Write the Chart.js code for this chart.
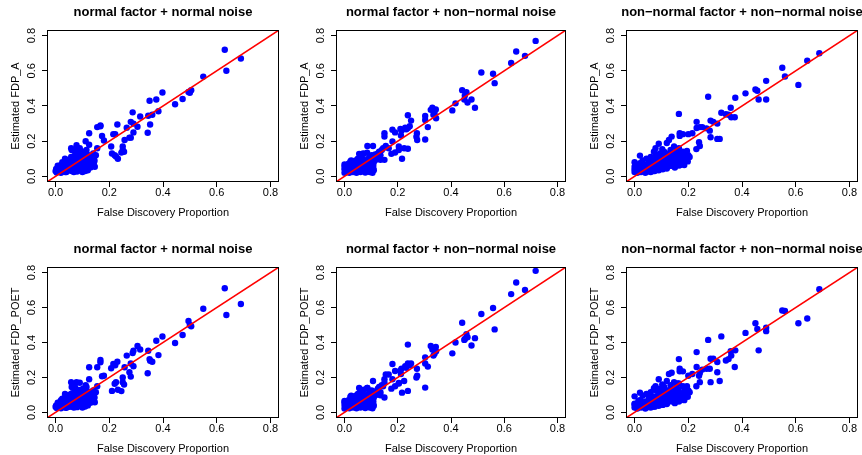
<!DOCTYPE html>
<html>
<head>
<meta charset="utf-8">
<script src="https://cdn.jsdelivr.net/npm/chart.js@4.4.1/dist/chart.umd.min.js"></script>
<style>
  html, body { margin: 0; padding: 0; background: #fff; }
  #wrap { position: relative; width: 862px; height: 455px; overflow: hidden; }
  #wrap canvas { position: absolute; }
</style>
</head>
<body>
<div id="wrap"></div>
<script>
// Simulated FDP vs estimated FDP, three factor/noise settings (columns)
const panelTitles = ['normal factor + normal noise', 'normal factor + non\u2212normal noise', 'non\u2212normal factor + non\u2212normal noise'];
const yLabels = ['Estimated FDP_A', 'Estimated FDP_POET'];
const xLabel = 'False Discovery Proportion';
const tickValues = [0, 0.2, 0.4, 0.6, 0.8];

// column 1: normal factor + normal noise
const fdpNN = [
  0.630,0.690,0.636,0.550,0.505,0.495,0.500,0.473,0.445,0.398,0.375,0.383,0.350,0.360,0.345,0.352,0.343,0.315,0.305,0.287,
  0.280,0.290,0.265,0.290,0.280,0.275,0.230,0.215,0.222,0.207,0.225,0.220,0.232,0.210,0.250,0.255,0.245,0.257,0.250,0.167,
  0.155,0.167,0.173,0.180,0.125,0.155,0.112,0.058,0.078,0.125,
  0.000,0.002,0.004,0.006,0.010,0.012,0.015,0.018,0.020,0.022,0.025,0.028,0.030,0.033,0.035,0.038,0.040,0.042,0.045,0.047,
  0.050,0.052,0.055,0.057,0.060,0.062,0.064,0.066,0.068,0.070,0.072,0.074,0.076,0.078,0.080,0.082,0.084,0.086,0.088,0.090,
  0.092,0.094,0.096,0.098,0.100,0.102,0.104,0.106,0.108,0.110,0.112,0.114,0.116,0.118,0.120,0.122,0.125,0.128,0.130,0.133,
  0.136,0.140,0.143,0.146,0.150,0.020,0.035,0.060,0.075,0.090,
  0.008,0.016,0.026,0.036,0.044,0.054,0.058,0.068,0.072,0.082,0.088,0.096,0.104,0.110,0.118,0.124,0.132,0.138,0.145,0.115
];
const estANN = [
  0.720,0.670,0.600,0.567,0.490,0.480,0.475,0.440,0.410,0.477,0.437,0.370,0.430,0.350,0.345,0.295,0.248,0.340,0.282,0.364,
  0.310,0.300,0.277,0.250,0.220,0.220,0.295,0.240,0.240,0.170,0.113,0.120,0.100,0.130,0.150,0.140,0.135,0.207,0.170,0.285,
  0.280,0.290,0.230,0.204,0.245,0.160,0.200,0.160,0.177,0.180,
  0.030,0.042,0.022,0.035,0.028,0.050,0.038,0.025,0.065,0.045,0.080,0.030,0.055,0.070,0.040,0.090,0.025,0.060,0.075,0.048,
  0.095,0.035,0.062,0.082,0.030,0.105,0.050,0.072,0.025,0.090,0.120,0.040,0.065,0.100,0.028,0.055,0.110,0.080,0.035,0.130,
  0.060,0.095,0.045,0.075,0.025,0.140,0.090,0.055,0.115,0.030,0.070,0.100,0.045,0.125,0.035,0.085,0.060,0.110,0.050,0.095,
  0.070,0.130,0.080,0.055,0.120,0.020,0.100,0.150,0.140,0.160,
  0.060,0.028,0.045,0.025,0.052,0.045,0.110,0.040,0.150,0.070,0.050,0.105,0.060,0.085,0.055,0.110,0.095,0.060,0.090,0.150
];
const estPoetNN = [
  0.710,0.620,0.557,0.593,0.493,0.523,0.500,0.443,0.397,0.434,0.410,0.328,0.305,0.290,0.353,0.296,0.224,0.360,0.380,0.340,
  0.280,0.353,0.325,0.264,0.205,0.230,0.290,0.277,0.270,0.253,0.173,0.164,0.130,0.123,0.173,0.160,0.122,0.258,0.200,0.300,
  0.258,0.287,0.207,0.210,0.258,0.150,0.155,0.173,0.173,0.190,
  0.032,0.040,0.025,0.038,0.026,0.055,0.035,0.028,0.070,0.042,0.078,0.033,0.058,0.066,0.044,0.085,0.027,0.064,0.072,0.050,
  0.100,0.032,0.068,0.080,0.034,0.110,0.047,0.075,0.028,0.088,0.125,0.043,0.060,0.098,0.030,0.058,0.105,0.085,0.038,0.128,
  0.064,0.090,0.048,0.078,0.028,0.135,0.095,0.052,0.110,0.034,0.074,0.098,0.050,0.120,0.040,0.088,0.064,0.105,0.055,0.100,
  0.066,0.125,0.084,0.058,0.115,0.024,0.105,0.145,0.135,0.170,
  0.055,0.030,0.048,0.028,0.055,0.050,0.105,0.044,0.145,0.074,0.054,0.100,0.064,0.090,0.058,0.105,0.100,0.064,0.085,0.145
];

// column 2: normal factor + non-normal noise
const fdpNX = [
  0.718,0.645,0.678,0.626,0.514,0.558,0.564,0.442,0.458,0.452,0.477,0.462,0.450,0.490,0.417,0.405,0.343,0.324,0.330,0.338,
  0.344,0.334,0.303,0.303,0.313,0.303,0.238,0.250,0.238,0.245,0.228,0.232,0.272,0.273,0.270,0.238,0.216,0.210,0.214,0.212,
  0.204,0.180,0.190,0.180,0.155,0.166,0.150,0.150,0.176,0.190,0.204,0.224,0.150,0.135,0.086,0.107,0.055,0.073,
  0.000,0.000,0.000,0.000,0.003,0.005,0.008,0.010,0.012,0.015,0.018,0.020,0.022,0.025,0.028,0.030,0.032,0.035,0.038,0.040,
  0.042,0.045,0.048,0.050,0.052,0.055,0.058,0.060,0.062,0.065,0.068,0.070,0.072,0.075,0.078,0.080,0.082,0.085,0.088,0.090,
  0.092,0.095,0.098,0.100,0.102,0.105,0.108,0.110,0.110,0.110,0.115,0.120,0.125,0.130,0.135,0.140,0.145,0.118,0.060,0.040,
  0.025,0.085,0.095,0.070,0.050,
  0.005,0.012,0.020,0.028,0.035,0.042,0.050,0.058,0.065,0.072,0.080,0.088,0.095,0.102,0.108,0.045,0.030,0.015,0.078,0.100
];
const estANX = [
  0.770,0.710,0.685,0.645,0.590,0.583,0.530,0.490,0.478,0.460,0.437,0.420,0.437,0.390,0.415,0.375,0.380,0.378,0.390,0.357,
  0.330,0.350,0.343,0.320,0.280,0.210,0.347,0.317,0.275,0.285,0.276,0.268,0.245,0.207,0.225,0.157,0.100,0.270,0.260,0.232,
  0.170,0.265,0.250,0.198,0.173,0.160,0.245,0.227,0.128,0.136,0.150,0.160,0.094,0.094,0.173,0.173,0.128,0.128,
  0.020,0.040,0.055,0.068,0.030,0.048,0.025,0.060,0.038,0.072,0.020,0.050,0.085,0.030,0.062,0.045,0.025,0.078,0.055,0.035,
  0.090,0.020,0.065,0.048,0.030,0.080,0.058,0.025,0.110,0.042,0.070,0.030,0.095,0.055,0.022,0.082,0.040,0.065,0.030,0.100,
  0.050,0.025,0.075,0.040,0.120,0.020,0.060,0.035,0.080,0.100,0.125,0.110,0.130,0.140,0.120,0.150,0.160,0.095,0.125,0.080,
  0.090,0.135,0.110,0.130,0.100,
  0.060,0.045,0.035,0.050,0.060,0.055,0.040,0.070,0.055,0.045,0.060,0.050,0.062,0.055,0.045,0.070,0.040,0.030,0.035,0.085
];
const estPoetNX = [
  0.810,0.743,0.700,0.677,0.563,0.597,0.475,0.513,0.448,0.420,0.383,0.430,0.415,0.425,0.400,0.338,0.375,0.380,0.360,0.335,
  0.350,0.325,0.315,0.280,0.262,0.142,0.388,0.280,0.280,0.270,0.265,0.255,0.250,0.210,0.200,0.123,0.113,0.240,0.250,0.220,
  0.168,0.277,0.237,0.190,0.217,0.217,0.190,0.170,0.136,0.150,0.165,0.180,0.085,0.098,0.140,0.180,0.140,0.130,
  0.022,0.042,0.058,0.065,0.032,0.050,0.028,0.062,0.040,0.070,0.024,0.053,0.090,0.034,0.060,0.048,0.028,0.075,0.058,0.038,
  0.095,0.024,0.068,0.050,0.033,0.085,0.055,0.028,0.105,0.045,0.074,0.033,0.098,0.058,0.025,0.085,0.043,0.068,0.033,0.105,
  0.053,0.028,0.078,0.043,0.125,0.024,0.064,0.038,0.085,0.105,0.120,0.115,0.135,0.145,0.115,0.155,0.150,0.100,0.130,0.085,
  0.095,0.140,0.115,0.125,0.105,
  0.063,0.048,0.038,0.053,0.064,0.058,0.044,0.073,0.058,0.048,0.064,0.054,0.066,0.058,0.048,0.074,0.043,0.033,0.038,0.090
];

// column 3: non-normal factor + non-normal noise
const fdpXX = [
  0.688,0.643,0.550,0.560,0.610,0.490,0.450,0.457,0.413,0.462,0.490,0.274,0.375,0.358,0.323,0.340,0.350,0.373,0.360,0.283,
  0.293,0.308,0.268,0.280,0.252,0.283,0.308,0.317,0.231,0.231,0.243,0.240,0.230,0.243,0.165,0.168,0.168,0.180,0.215,0.200,
  0.165,0.194,0.180,0.138,0.128,0.120,0.090,0.103,0.078,0.072,0.020,0.000,0.160,0.147,
  0.000,0.000,0.000,0.004,0.008,0.010,0.014,0.018,0.020,0.024,0.028,0.030,0.034,0.038,0.040,0.044,0.048,0.050,0.054,0.058,
  0.060,0.064,0.068,0.070,0.074,0.078,0.080,0.084,0.088,0.090,0.094,0.098,0.100,0.104,0.108,0.110,0.114,0.118,0.120,0.124,
  0.128,0.130,0.134,0.138,0.140,0.144,0.148,0.150,0.154,0.158,0.160,0.165,0.170,0.175,0.180,0.185,0.190,0.195,0.200,0.205,
  0.150,0.120,0.090,0.060,0.040,0.170,0.135,0.105,0.075,
  0.012,0.022,0.032,0.046,0.056,0.066,0.076,0.086,0.096,0.106,0.112,0.122,0.132,0.142,0.152,0.162,0.172,0.182,0.192,0.198,
  0.156,0.128,0.098,0.185
];
const estAXX = [
  0.700,0.657,0.617,0.568,0.520,0.543,0.494,0.487,0.472,0.437,0.437,0.453,0.447,0.390,0.362,0.353,0.350,0.336,0.336,0.317,
  0.310,0.300,0.273,0.260,0.280,0.222,0.213,0.213,0.310,0.275,0.280,0.194,0.155,0.173,0.355,0.245,0.230,0.240,0.245,0.240,
  0.062,0.123,0.140,0.226,0.207,0.190,0.185,0.155,0.160,0.140,0.118,0.080,0.132,0.170,
  0.025,0.040,0.055,0.030,0.045,0.020,0.060,0.035,0.075,0.025,0.050,0.090,0.030,0.065,0.040,0.100,0.028,0.055,0.080,0.035,
  0.110,0.045,0.070,0.030,0.095,0.050,0.120,0.040,0.085,0.060,0.130,0.045,0.075,0.100,0.055,0.140,0.070,0.090,0.050,0.120,
  0.080,0.065,0.150,0.095,0.060,0.110,0.075,0.130,0.085,0.100,0.070,0.160,0.090,0.115,0.080,0.130,0.100,0.145,0.120,0.110,
  0.050,0.045,0.035,0.025,0.020,0.065,0.060,0.040,0.030,
  0.040,0.055,0.045,0.060,0.050,0.085,0.065,0.100,0.090,0.120,0.085,0.100,0.110,0.085,0.115,0.125,0.075,0.100,0.135,0.085,
  0.145,0.130,0.110,0.065
];
const estPoetXX = [
  0.705,0.537,0.583,0.580,0.510,0.485,0.510,0.477,0.455,0.355,0.465,0.415,0.355,0.350,0.435,0.297,0.305,0.260,0.325,0.307,
  0.307,0.288,0.250,0.250,0.245,0.173,0.230,0.180,0.345,0.260,0.225,0.210,0.150,0.173,0.305,0.250,0.235,0.235,0.220,0.210,
  0.062,0.137,0.150,0.227,0.220,0.180,0.190,0.160,0.150,0.138,0.113,0.092,0.165,0.173,
  0.028,0.045,0.050,0.033,0.048,0.022,0.065,0.038,0.070,0.028,0.055,0.095,0.033,0.060,0.043,0.105,0.030,0.058,0.085,0.038,
  0.115,0.048,0.075,0.033,0.090,0.053,0.125,0.043,0.080,0.064,0.135,0.048,0.080,0.095,0.058,0.145,0.075,0.085,0.053,0.125,
  0.085,0.068,0.155,0.100,0.064,0.105,0.080,0.135,0.090,0.105,0.075,0.165,0.095,0.110,0.085,0.135,0.105,0.150,0.125,0.115,
  0.053,0.048,0.038,0.028,0.022,0.070,0.064,0.043,0.033,
  0.043,0.058,0.048,0.064,0.054,0.090,0.068,0.095,0.094,0.125,0.090,0.105,0.115,0.090,0.120,0.130,0.080,0.105,0.140,0.090,
  0.150,0.125,0.115,0.070
];

const xByCol = [fdpNN, fdpNX, fdpXX];
const yByRow = [[estANN, estANX, estAXX], [estPoetNN, estPoetNX, estPoetXX]];

// axis range like R's default 4% extension of [0, 0.8]
const AX_MIN = -0.032, AX_MAX = 0.832;
const FONT = '"Liberation Sans", Arial, Helvetica, sans-serif';

// canvas placement and plot box inside each canvas
const cols = [
  { left: 0,   width: 287, areaL: 47, areaR: 279 },
  { left: 287, width: 287, areaL: 49, areaR: 279 },
  { left: 574, width: 288, areaL: 52, areaR: 284 }
];
const rows = [
  { top: 0,   height: 227, areaT: 30, areaB: 182 },
  { top: 227, height: 228, areaT: 40, areaB: 191 }
];

// box, tick labels, axis labels and title in R base-graphics style
const rStyle = {
  id: 'rStyle',
  afterDraw(chart, args, opts) {
    const ctx = chart.ctx;
    const a = chart.chartArea;
    const xs = chart.scales.x, ys = chart.scales.y;
    ctx.save();
    ctx.strokeStyle = '#000';
    ctx.lineWidth = 1;
    ctx.strokeRect(a.left + 0.5, a.top + 0.5, a.right - a.left - 1, a.bottom - a.top - 1);

    ctx.fillStyle = '#000';
    ctx.textAlign = 'center';
    ctx.textBaseline = 'middle';
    ctx.font = '11px ' + FONT;
    tickValues.forEach(v => {
      ctx.fillText(v.toFixed(1), xs.getPixelForValue(v), a.bottom + 11);
      ctx.save();
      ctx.translate(a.left - 15, ys.getPixelForValue(v));
      ctx.rotate(-Math.PI / 2);
      ctx.fillText(v.toFixed(1), 0, 0);
      ctx.restore();
    });
    ctx.fillText(xLabel, (a.left + a.right) / 2, a.bottom + 31);
    ctx.save();
    ctx.translate(a.left - 31, (a.top + a.bottom) / 2);
    ctx.rotate(-Math.PI / 2);
    ctx.fillText(opts.yLabel, 0, 0);
    ctx.restore();

    ctx.font = 'bold 13px ' + FONT;
    ctx.fillText(opts.title, (a.left + a.right) / 2, a.top - 18);
    ctx.restore();
  }
};

function makePanel(r, c) {
  const row = rows[r], col = cols[c];
  const canvas = document.createElement('canvas');
  canvas.width = col.width;
  canvas.height = row.height;
  canvas.style.left = col.left + 'px';
  canvas.style.top = row.top + 'px';
  canvas.style.width = col.width + 'px';
  canvas.style.height = row.height + 'px';
  document.getElementById('wrap').appendChild(canvas);

  const xs = xByCol[c], ys = yByRow[r][c];
  const n = Math.min(xs.length, ys.length);
  const points = [];
  for (let i = 0; i < n; i++) points.push({ x: xs[i], y: ys[i] });

  const tickGrid = { drawOnChartArea: false, drawTicks: true, tickLength: 5, color: '#000', lineWidth: 1 };
  const setTicks = scale => { scale.ticks = tickValues.map(v => ({ value: v })); };

  return new Chart(canvas.getContext('2d'), {
    type: 'scatter',
    data: {
      datasets: [
        {
          // 45 degree reference line, drawn on top of the points
          data: [{ x: AX_MIN, y: AX_MIN }, { x: AX_MAX, y: AX_MAX }],
          showLine: true,
          borderColor: '#ff0000',
          borderWidth: 1.5,
          pointRadius: 0,
          fill: false
        },
        {
          data: points,
          backgroundColor: '#0000ff',
          borderColor: '#0000ff',
          borderWidth: 0,
          pointRadius: 3.2
        }
      ]
    },
    options: {
      responsive: false,
      devicePixelRatio: 1,
      animation: false,
      events: [],
      layout: { padding: { top: row.areaT, right: col.width - col.areaR, left: 0, bottom: 0 } },
      scales: {
        x: {
          type: 'linear', min: AX_MIN, max: AX_MAX,
          afterBuildTicks: setTicks,
          afterFit: scale => { scale.height = row.height - row.areaB; },
          ticks: { display: false },
          grid: tickGrid,
          border: { display: false }
        },
        y: {
          type: 'linear', min: AX_MIN, max: AX_MAX,
          afterBuildTicks: setTicks,
          afterFit: scale => { scale.width = col.areaL; },
          ticks: { display: false },
          grid: tickGrid,
          border: { display: false }
        }
      },
      plugins: {
        legend: { display: false },
        tooltip: { enabled: false },
        rStyle: { title: panelTitles[c], yLabel: yLabels[r] }
      }
    },
    plugins: [rStyle]
  });
}

for (let r = 0; r < rows.length; r++) {
  for (let c = 0; c < cols.length; c++) makePanel(r, c);
}
</script>
</body>
</html>
